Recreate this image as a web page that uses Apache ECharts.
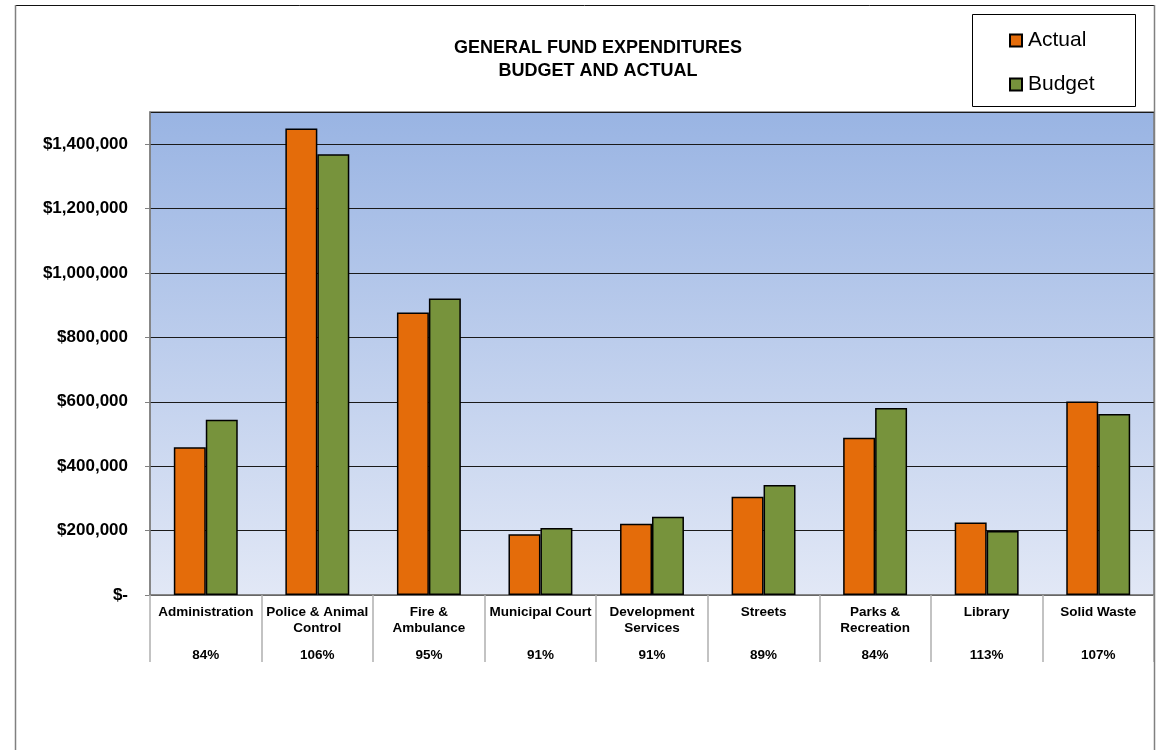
<!DOCTYPE html>
<html>
<head>
<meta charset="utf-8">
<script src="https://cdn.jsdelivr.net/npm/echarts@6/dist/echarts.min.js"></script>
<style>
  html, body { margin: 0; padding: 0; background: #fff; }
  #chart { width: 1160px; height: 750px; }
</style>
</head>
<body>
<div id="chart"></div>
<script>
const categories = ['Administration', 'Police & Animal\nControl', 'Fire &\nAmbulance', 'Municipal Court',
  'Development\nServices', 'Streets', 'Parks &\nRecreation', 'Library', 'Solid Waste'];
const percentLabels = ['84%', '106%', '95%', '91%', '91%', '89%', '84%', '113%', '107%'];
const actualValues = [459000, 1449000, 877000, 189000, 221000, 305000, 488000, 225000, 601000];
const budgetValues = [544000, 1369000, 921000, 208000, 243000, 342000, 581000, 199000, 562000];
const yTicks = { min: 0, max: 1500000, interval: 200000 };

const chart = echarts.init(document.getElementById('chart'));
const FONT = 'Liberation Sans, Arial, sans-serif';

function money(v) {
  if (v === 0) return '$-';
  return '$' + v.toLocaleString('en-US');
}

const option = {
  animation: false,
  backgroundColor: '#ffffff',
  title: {
    text: 'GENERAL FUND EXPENDITURES\nBUDGET AND ACTUAL',
    left: 598,
    top: 37,
    padding: 0,
    textAlign: 'center',
    textStyle: { fontFamily: FONT, fontWeight: 'bold', fontSize: 18, lineHeight: 23, color: '#000' }
  },
  legend: {
    orient: 'vertical',
    left: 1009,
    top: 30,
    padding: 0,
    itemGap: 23,
    itemWidth: 12,
    itemHeight: 12,
    icon: 'rect',
    textStyle: { fontFamily: FONT, fontSize: 21, color: '#000', padding: [0, 0, 0, 1] },
    data: ['Actual', 'Budget']
  },
  graphic: [
    { type: 'line', shape: { x1: 15, y1: 5.5, x2: 1154, y2: 5.5 }, style: { stroke: '#111', lineWidth: 1 }, z: 100 },
    { type: 'line', shape: { x1: 15.5, y1: 5, x2: 15.5, y2: 750 }, style: { stroke: '#808080', lineWidth: 1.5 }, z: 100 },
    { type: 'line', shape: { x1: 1154.5, y1: 5, x2: 1154.5, y2: 750 }, style: { stroke: '#808080', lineWidth: 1.5 }, z: 100 },
    { type: 'rect', shape: { x: 972.5, y: 14.5, width: 163, height: 92 }, style: { fill: 'none', stroke: '#000', lineWidth: 1 }, z: 100 }
  ],
  grid: {
    left: 150, top: 112, right: 6, bottom: 155,
    show: true,
    borderColor: '#808080',
    borderWidth: 1.5,
    backgroundColor: new echarts.graphic.LinearGradient(0, 0, 0, 1, [
      { offset: 0, color: '#99B4E3' },
      { offset: 1, color: '#E2E8F6' }
    ])
  },
  xAxis: [
    {
      type: 'category',
      data: categories,
      position: 'bottom',
      axisLine: { show: true, lineStyle: { color: '#808080', width: 1.5 } },
      axisTick: { show: true, interval: 0, length: 67, lineStyle: { color: '#b0b0b0', width: 1.5 } },
      axisLabel: {
        interval: 0, margin: 9, fontFamily: FONT, fontWeight: 'bold', fontSize: 13.5,
        lineHeight: 16, color: '#000', verticalAlign: 'top'
      }
    },
    {
      type: 'category',
      data: percentLabels,
      position: 'bottom',
      axisLine: { show: false },
      axisTick: { show: false },
      axisLabel: {
        interval: 0, margin: 53, fontFamily: FONT, fontWeight: 'bold', fontSize: 13.5,
        color: '#000', verticalAlign: 'top'
      }
    }
  ],
  yAxis: {
    type: 'value',
    min: yTicks.min,
    max: yTicks.max,
    interval: yTicks.interval,
    axisLine: { show: true, lineStyle: { color: '#808080', width: 1.5 } },
    axisTick: { show: true, length: 5, lineStyle: { color: '#808080' } },
    splitLine: { show: true, lineStyle: { color: '#1a1a1a', width: 1 } },
    axisLabel: {
      margin: 22,
      showMaxLabel: false,
      fontFamily: FONT, fontWeight: 'bold', fontSize: 17, color: '#000',
      formatter: money
    }
  },
  series: [
    {
      name: 'Actual',
      type: 'bar',
      xAxisIndex: 0,
      data: actualValues,
      barGap: '0%',
      barCategoryGap: '42.7%',
      itemStyle: { color: '#E46C0A', borderColor: '#000', borderWidth: 1.5 }
    },
    {
      name: 'Budget',
      type: 'bar',
      xAxisIndex: 0,
      data: budgetValues,
      barGap: '0%',
      barCategoryGap: '42.7%',
      itemStyle: { color: '#77933C', borderColor: '#000', borderWidth: 1.5 }
    }
  ]
};
chart.setOption(option);
</script>
</body>
</html>
